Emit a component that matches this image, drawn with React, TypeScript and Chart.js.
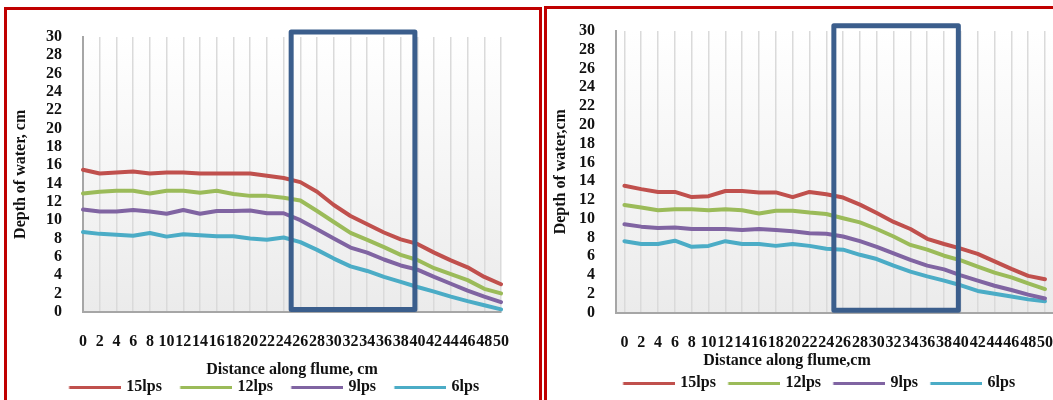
import React, { useEffect, useRef } from 'react';
import { Chart, registerables } from 'chart.js';

Chart.register(...registerables);

// ---------- data ----------
const distances = ['0', '2', '4', '6', '8', '10', '12', '14', '16', '18', '20', '22', '24', '26', '28', '30', '32', '34', '36', '38', '40', '42', '44', '46', '48', '50'];
const seriesNames = ['15lps', '12lps', '9lps', '6lps'];
const seriesColors = ['#c0504d', '#9bbb59', '#8064a2', '#4bacc6'];

// left panel
const left15 = [15.5, 15.1, 15.2, 15.3, 15.1, 15.2, 15.2, 15.1, 15.1, 15.1, 15.1, 14.85, 14.6, 14.15, 13.1, 11.65, 10.45, 9.55, 8.65, 7.9, 7.4, 6.45, 5.6, 4.85, 3.8, 3.0];
const left12 = [12.9, 13.1, 13.2, 13.2, 12.9, 13.2, 13.2, 13.0, 13.2, 12.85, 12.65, 12.65, 12.45, 12.15, 11.0, 9.8, 8.6, 7.85, 7.05, 6.2, 5.65, 4.75, 4.1, 3.45, 2.5, 2.0];
const left9 = [11.15, 10.95, 10.95, 11.1, 10.95, 10.7, 11.1, 10.7, 11.0, 11.0, 11.05, 10.75, 10.75, 10.0, 9.0, 8.0, 7.0, 6.45, 5.7, 5.05, 4.6, 3.8, 3.05, 2.3, 1.65, 1.05];
const left6 = [8.7, 8.5, 8.4, 8.3, 8.6, 8.2, 8.45, 8.35, 8.25, 8.25, 8.0, 7.85, 8.1, 7.6, 6.75, 5.8, 4.95, 4.45, 3.8, 3.25, 2.7, 2.2, 1.65, 1.15, 0.7, 0.25];

// right panel
const right15 = [13.5, 13.15, 12.85, 12.85, 12.3, 12.4, 12.95, 12.95, 12.8, 12.8, 12.3, 12.85, 12.6, 12.25, 11.5, 10.6, 9.65, 8.9, 7.85, 7.3, 6.8, 6.25, 5.45, 4.65, 3.9, 3.55];
const right12 = [11.45, 11.2, 10.9, 11.0, 11.0, 10.9, 11.0, 10.9, 10.55, 10.85, 10.85, 10.65, 10.5, 10.05, 9.6, 8.9, 8.1, 7.2, 6.7, 6.05, 5.55, 4.9, 4.25, 3.75, 3.1, 2.5];
const right9 = [9.4, 9.15, 9.0, 9.05, 8.9, 8.9, 8.9, 8.8, 8.9, 8.8, 8.65, 8.45, 8.4, 8.1, 7.6, 7.0, 6.3, 5.6, 5.0, 4.6, 3.95, 3.4, 2.85, 2.4, 1.9, 1.5];
const right6 = [7.6, 7.3, 7.3, 7.65, 7.0, 7.1, 7.6, 7.3, 7.3, 7.1, 7.3, 7.1, 6.8, 6.7, 6.15, 5.7, 5.0, 4.35, 3.85, 3.4, 2.9, 2.3, 2.0, 1.7, 1.4, 1.2];

// highlighted region (distance in cm, depth in cm)
const highlightFrom = 24.9;
const highlightTo = 39.7;
const highlightLow = 0.25;
const highlightHigh = 30.55;

const yMin = 0;
const yMax = 30;
const yStep = 2;

const leftYTitle = 'Depth of water, cm';
const leftXTitle = 'Distance along flume, cm';
const rightYTitle = 'Depth of water,cm';
const rightXTitle = 'Distance along flume,cm';

// ---------- styling ----------
const FONT = "'Liberation Serif', 'Times New Roman', serif";
const TEXT = '#111111';
const font16 = { family: FONT, size: 16, weight: 'bold' as const };

function legendLine(color: string, width: number): HTMLCanvasElement {
  const c = document.createElement('canvas');
  c.width = width;
  c.height = 3;
  const ctx = c.getContext('2d')!;
  ctx.fillStyle = color;
  ctx.fillRect(width - 52, 0, 52, 3);
  return c;
}

const plotBg = {
  id: 'plotBg',
  beforeDraw(chart: any) {
    const { ctx, chartArea } = chart;
    const { left, top, right, bottom } = chartArea;
    const g = ctx.createLinearGradient(0, top, 0, bottom);
    g.addColorStop(0, '#ffffff');
    g.addColorStop(1, '#ebebeb');
    ctx.save();
    ctx.fillStyle = g;
    ctx.fillRect(left, top, right - left, bottom - top);
    ctx.restore();
  },
};

const highlightBox = {
  id: 'highlightBox',
  afterDatasetsDraw(chart: any) {
    const xs = chart.scales.x;
    const ys = chart.scales.y;
    const d0 = Number(distances[0]);
    const step = Number(distances[1]) - d0;
    const x1 = xs.getPixelForValue((highlightFrom - d0) / step);
    const x2 = xs.getPixelForValue((highlightTo - d0) / step);
    const y1 = ys.getPixelForValue(highlightHigh);
    const y2 = ys.getPixelForValue(highlightLow);
    const ctx = chart.ctx;
    ctx.save();
    ctx.strokeStyle = '#3b5e8c';
    ctx.lineWidth = 5;
    ctx.lineJoin = 'round';
    ctx.strokeRect(x1, y1, x2 - x1, y2 - y1);
    ctx.restore();
  },
};

function makeDatasets(values: number[][], boxW: number) {
  return values.map((v, i) => ({
    label: seriesNames[i],
    data: v,
    borderColor: seriesColors[i],
    backgroundColor: seriesColors[i],
    borderWidth: 4,
    pointRadius: 0,
    pointStyle: legendLine(seriesColors[i], boxW + 5),
    tension: 0,
    borderCapStyle: 'round' as const,
    borderJoinStyle: 'round' as const,
  }));
}

type PanelCfg = {
  values: number[][];
  yTitle: string;
  xTitle: string;
  builtInXTitle: boolean;
  padTop: number;
  padLeft: number;
  padRight: number;
  yWidth: number;
  yTitlePad: number;
  xHeight: number;
  xTitlePadBottom: number;
  offset: boolean;
  boxW: number;
  xTitleCanvasX: number;
  xTitleCanvasY: number;
};

function buildChart(canvas: HTMLCanvasElement, cfg: PanelCfg) {
  const extra: any[] = [plotBg, highlightBox];
  if (!cfg.builtInXTitle) {
    extra.push({
      id: 'xTitleFree',
      afterDraw(chart: any) {
        const ctx = chart.ctx;
        ctx.save();
        ctx.font = `bold 16px ${FONT}`;
        ctx.fillStyle = TEXT;
        ctx.textAlign = 'center';
        ctx.textBaseline = 'middle';
        ctx.fillText(cfg.xTitle, cfg.xTitleCanvasX, cfg.xTitleCanvasY);
        ctx.restore();
      },
    });
  }
  return new Chart(canvas, {
    type: 'line',
    data: { labels: distances, datasets: makeDatasets(cfg.values, cfg.boxW) as any },
    plugins: extra,
    options: {
      responsive: false,
      animation: false,
      events: [],
      layout: { padding: { top: cfg.padTop, left: cfg.padLeft, right: cfg.padRight, bottom: 0 } },
      plugins: {
        legend: {
          position: 'bottom',
          labels: {
            usePointStyle: true,
            pointStyleWidth: cfg.boxW,
            padding: 0,
            color: TEXT,
            font: font16,
          },
        },
        tooltip: { enabled: false },
      },
      scales: {
        x: {
          offset: cfg.offset,
          grid: { display: true, offset: false, color: '#dadada', lineWidth: 1.5, drawTicks: false },
          border: { display: true, color: '#a6a6a6', width: 2 },
          ticks: { autoSkip: false, maxRotation: 0, minRotation: 0, padding: 21, color: TEXT, font: font16 },
          title: {
            display: cfg.builtInXTitle,
            text: cfg.xTitle,
            color: TEXT,
            font: font16,
            padding: { top: 0, bottom: cfg.xTitlePadBottom },
          },
          afterFit: (s: any) => { s.height = cfg.xHeight; },
        },
        y: {
          min: yMin,
          max: yMax,
          ticks: { stepSize: yStep, autoSkip: false, maxTicksLimit: 100, padding: 21, color: TEXT, font: font16 },
          grid: { display: false, drawTicks: false },
          border: { display: true, color: '#a6a6a6', width: 2 },
          title: {
            display: true,
            text: cfg.yTitle,
            color: TEXT,
            font: font16,
            padding: { top: cfg.yTitlePad, bottom: 0 },
          },
          afterFit: (s: any) => { s.width = cfg.yWidth; },
        },
      },
    } as any,
  });
}

export default function App() {
  const leftRef = useRef<HTMLCanvasElement>(null);
  const rightRef = useRef<HTMLCanvasElement>(null);

  useEffect(() => {
    const a = buildChart(leftRef.current!, {
      values: [left15, left12, left9, left6],
      yTitle: leftYTitle,
      xTitle: leftXTitle,
      builtInXTitle: true,
      padTop: 37,
      padLeft: 24,
      padRight: 24,
      yWidth: 59,
      yTitlePad: -12.6,
      xHeight: 67.3,
      xTitlePadBottom: 0,
      offset: false,
      boxW: 67.5,
      xTitleCanvasX: 0,
      xTitleCanvasY: 0,
    });
    const b = buildChart(rightRef.current!, {
      values: [right15, right12, right9, right6],
      yTitle: rightYTitle,
      xTitle: rightXTitle,
      builtInXTitle: false,
      padTop: 31,
      padLeft: 24.6,
      padRight: 24.6,
      yWidth: 43.4,
      yTitlePad: -21.7,
      xHeight: 62.5,
      xTitlePadBottom: 0,
      offset: true,
      boxW: 61.5,
      xTitleCanvasX: 239,
      xTitleCanvasY: 361,
    });
    return () => {
      a.destroy();
      b.destroy();
    };
  }, []);

  return (
    <div style={{ position: 'absolute', left: 0, top: 0, width: 1053, height: 400, overflow: 'hidden', background: '#fff' }}>
      <canvas ref={leftRef} width={530} height={405} style={{ position: 'absolute', left: 0, top: 0, width: 530, height: 405 }} />
      <canvas ref={rightRef} width={530} height={401} style={{ position: 'absolute', left: 548, top: 0, width: 530, height: 401 }} />
      <div style={{ position: 'absolute', left: 4, top: 7, width: 538, height: 430, boxSizing: 'border-box', border: '3px solid #c00000', pointerEvents: 'none' }} />
      <div style={{ position: 'absolute', left: 544, top: 6, width: 540, height: 430, boxSizing: 'border-box', border: '3px solid #c00000', pointerEvents: 'none' }} />
    </div>
  );
}
